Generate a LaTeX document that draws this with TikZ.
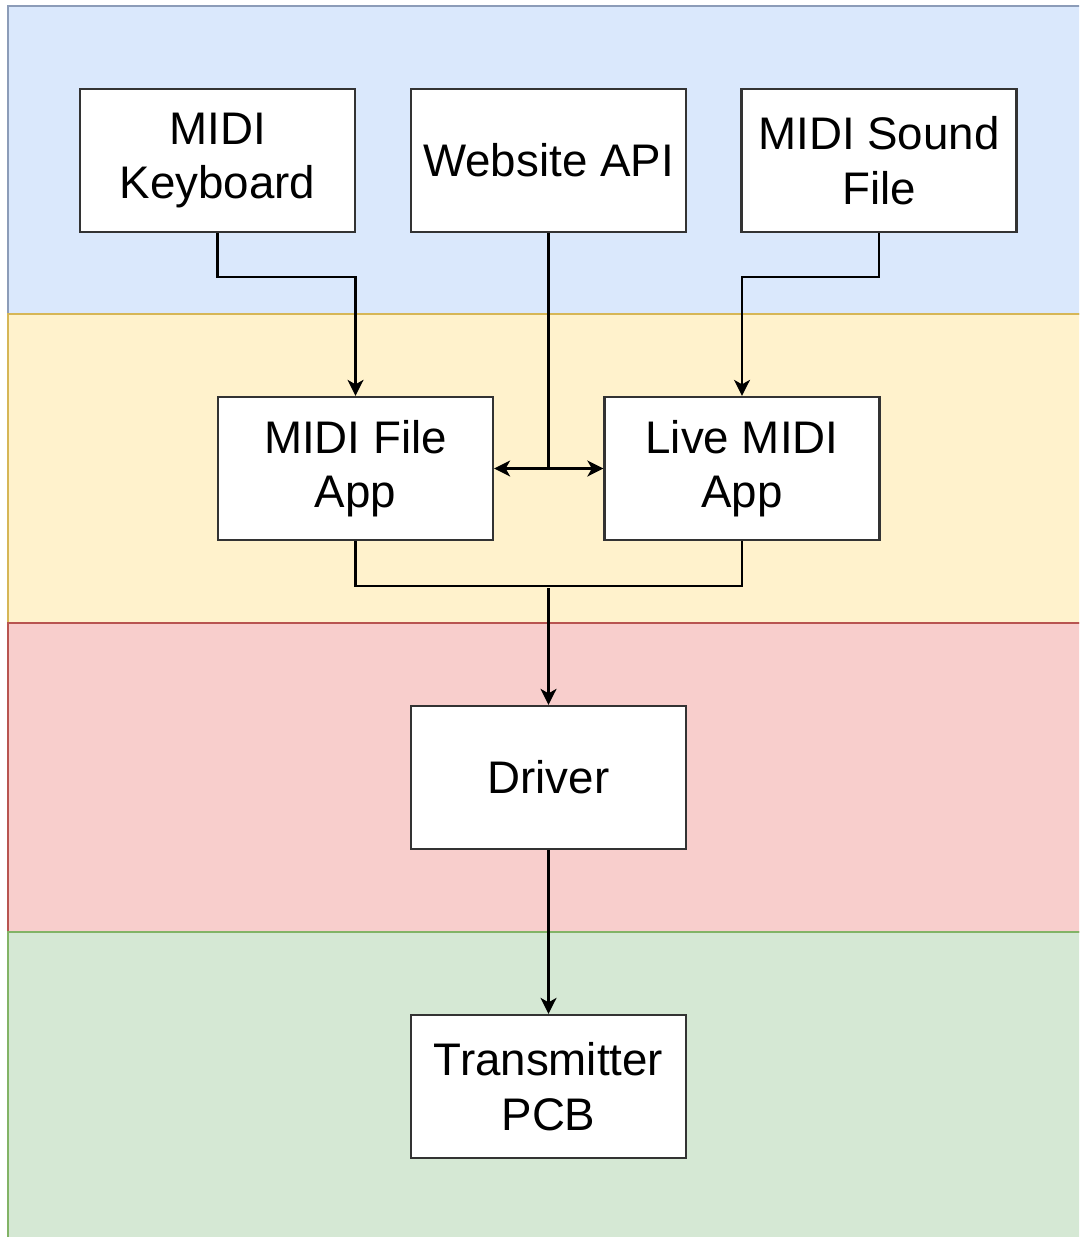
\documentclass[tikz,border=0pt]{standalone}
\usepackage{fontspec}
\setmainfont{Liberation Sans}
\usetikzlibrary{arrows.meta,positioning,calc}
\definecolor{laneblue}{HTML}{DAE8FC}
\definecolor{laneblueline}{HTML}{8C9CB8}
\definecolor{laneyellow}{HTML}{FFF2CC}
\definecolor{laneyellowline}{HTML}{D6B656}
\definecolor{lanered}{HTML}{F8CECC}
\definecolor{laneredline}{HTML}{B85450}
\definecolor{lanegreen}{HTML}{D5E8D4}
\definecolor{lanegreenline}{HTML}{82B366}
\definecolor{boxline}{HTML}{333333}

\begin{document}
\begin{tikzpicture}[font=\fontsize{26}{31}\selectfont,
 block/.style={draw=boxline,fill=white,line width=1.3pt,align=center,minimum width=5.5cm,minimum height=2.86cm,inner sep=2pt},
 lane/.style={line width=1pt},
 wire/.style={line width=1.3pt},
 arr/.style={wire,-{Stealth[length=3.2mm,width=3.2mm,inset=0.9mm]}},
 twoarr/.style={wire,{Stealth[length=3.2mm,width=3.2mm,inset=0.9mm]}-{Stealth[length=3.2mm,width=3.2mm,inset=0.9mm]}}]
\useasboundingbox (0,0) rectangle (21.58,-24.74);
% lanes
\begin{scope}
\clip (0,0) rectangle (21.58,-24.74);
\draw[lane,draw=laneblueline,fill=laneblue] (0.16,-0.12) rectangle (21.8,-6.28);
\draw[lane,draw=laneyellowline,fill=laneyellow] (0.16,-6.28) rectangle (21.8,-12.46);
\draw[lane,draw=laneredline,fill=lanered] (0.16,-12.46) rectangle (21.8,-18.64);
\draw[lane,draw=lanegreenline,fill=lanegreen] (0.16,-18.64) rectangle (21.8,-25);
\end{scope}
% blocks
\node[block] (kbd) at (4.35,-3.21) {MIDI\\Keyboard};
\node[block] (api) at (10.97,-3.21) {Website API};
\node[block] (snd) at (17.58,-3.21) {MIDI Sound\\File};
\node[block] (fileapp) at (7.11,-9.37) {MIDI File\\App};
\node[block] (liveapp) at (14.84,-9.37) {Live MIDI\\App};
\node[block] (driver) at (10.97,-15.55) {Driver};
\node[block] (pcb) at (10.97,-21.73) {Transmitter\\PCB};
% connectors
\draw[arr] (kbd.south) -- ++(0,-0.88) -| (fileapp.north);
\draw[arr] (snd.south) -- ++(0,-0.88) -| (liveapp.north);
\draw[wire] (api.south) -- (api.south |- fileapp.east);
\draw[twoarr] (fileapp.east) -- (liveapp.west);
\coordinate (join) at ($(api.south)+(0,-7.1)$);
\draw[wire] (fileapp.south) -- ++(0,-0.9) -| (liveapp.south);
\foreach \a/\b in {join/driver,driver/pcb} \draw[arr] (\a) -- (\b.north);
\end{tikzpicture}
\end{document}
